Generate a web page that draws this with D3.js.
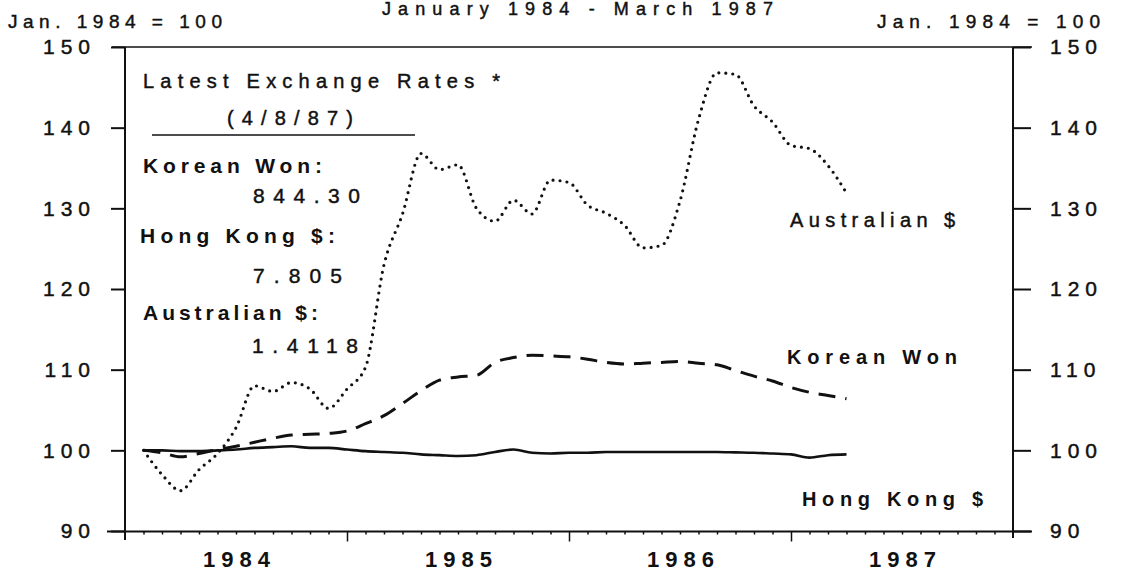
<!DOCTYPE html>
<html>
<head>
<meta charset="utf-8">
<script src="https://cdn.jsdelivr.net/npm/d3@7/dist/d3.min.js"></script>
<style>
  body { margin: 0; background: #fff; }
  svg { display: block; font-family: "Liberation Sans", Arial, Helvetica, sans-serif; }
  text { fill: #111; }
</style>
</head>
<body>
<div id="chart"></div>
<script>
// Data, monthly Jan 1984 - Mar 1987, index Jan 1984 = 100
const years = ["1984", "1985", "1986", "1987"];
const yTicks = [90, 100, 110, 120, 130, 140, 150];

const hongKong = [100, 100, 99.9, 99.9, 100, 100.1, 100.3, 100.4, 100.5, 100.3, 100.3, 100.1,
  99.9, 99.8, 99.7, 99.5, 99.4, 99.3, 99.4, 99.8, 100.1, 99.7, 99.6, 99.7,
  99.7, 99.8, 99.8, 99.8, 99.8, 99.8, 99.8, 99.8, 99.75, 99.7, 99.6, 99.5,
  99.1, 99.4, 99.5];

const korean = [100, 99.7, 99.2, 99.6, 100.1, 100.5, 101.0, 101.5, 101.9, 102.0, 102.1, 102.4,
  103.3, 104.3, 105.8, 107.4, 108.7, 109.1, 109.3, 110.9, 111.5, 111.8, 111.7, 111.6,
  111.3, 110.9, 110.7, 110.8, 110.9, 111.0, 110.8, 110.6, 109.9, 109.2, 108.6, 107.8,
  107.2, 106.8, 106.4];

const australian = [100, 97.0, 95.0, 97.6, 99.6, 102.8, 108.0, 107.3, 108.4, 107.6, 105.2, 107.6,
  110.3, 123.0, 129.3, 136.8, 134.8, 135.4, 130.0, 128.4, 131.0, 129.3, 133.5, 133.2,
  130.4, 129.4, 127.9, 125.1, 125.4, 130.9, 141.0, 146.8, 146.6, 142.7, 140.7, 137.8,
  137.4, 135.3, 131.9];

const rateNames = ["Korean Won:", "Hong Kong $:", "Australian $:"];
const rateValues = ["844.30", "7.805", "1.4118"];

// Layout
const WIDTH = 1146, HEIGHT = 577;
const PLOT = {LEFT: 125, RIGHT: 1013, TOP: 47, BOTTOM: 531};

const svg = d3.select("#chart").append("svg")
  .attr("width", WIDTH)
  .attr("height", HEIGHT);

// months since Jan 1 1984; each monthly value sits at the end of its month
const x = d3.scaleLinear().domain([0, 48]).range([PLOT.LEFT, PLOT.RIGHT]);
const y = d3.scaleLinear().domain([90, 150]).range([PLOT.BOTTOM, PLOT.TOP]);

// text with a fixed span, to mimic the wide tracking of the original
function label(str, x0, x1, yb, size, weight) {
  const t = svg.append("text")
    .attr("x", x0)
    .attr("y", yb)
    .attr("font-size", size)
    .attr("font-weight", weight || "normal")
    .attr("textLength", x1 - x0)
    .attr("lengthAdjust", "spacing")
    .text(str);
  if (!weight) t.attr("stroke", "#111").attr("stroke-width", 0.45);
  return t;
}

// Frame lines
svg.append("line")
  .attr("x1", PLOT.LEFT - 13).attr("x2", PLOT.RIGHT + 19)
  .attr("y1", PLOT.TOP).attr("y2", PLOT.TOP)
  .attr("stroke", "#111").attr("stroke-width", 1.6);
svg.append("line")
  .attr("x1", PLOT.LEFT - 18).attr("x2", PLOT.RIGHT + 19)
  .attr("y1", PLOT.BOTTOM + 0.5).attr("y2", PLOT.BOTTOM + 0.5)
  .attr("stroke", "#111").attr("stroke-width", 2);
svg.append("line")
  .attr("x1", PLOT.LEFT).attr("x2", PLOT.LEFT)
  .attr("y1", PLOT.TOP).attr("y2", PLOT.BOTTOM + 9)
  .attr("stroke", "#111").attr("stroke-width", 2);
svg.append("line")
  .attr("x1", PLOT.RIGHT).attr("x2", PLOT.RIGHT)
  .attr("y1", PLOT.TOP).attr("y2", PLOT.BOTTOM + 7)
  .attr("stroke", "#111").attr("stroke-width", 2);

// Y axes
const yLeft = svg.append("g")
  .attr("transform", "translate(" + PLOT.LEFT + ",0)")
  .call(d3.axisLeft(y).tickValues(yTicks).tickSize(14).tickSizeOuter(0).tickPadding(15));
const yRight = svg.append("g")
  .attr("transform", "translate(" + PLOT.RIGHT + ",0)")
  .call(d3.axisRight(y).tickValues(yTicks).tickSize(18).tickSizeOuter(0).tickPadding(19));

[yLeft, yRight].forEach(function (ax) {
  ax.select(".domain").remove();
  ax.selectAll(".tick line").attr("stroke", "#111").attr("stroke-width", 2);
  ax.selectAll(".tick text")
    .attr("font-family", null)
    .attr("font-size", 21)
    .attr("stroke", "#111")
    .attr("stroke-width", 0.45)
    .style("letter-spacing", "6px")
    .attr("fill", "#111");
});

// X axis: monthly minor ticks, yearly ticks, year labels centred in each year
const minor = d3.range(1, 48).filter(function (m) { return m % 12 !== 0; });
const xMinor = svg.append("g")
  .attr("transform", "translate(0," + (PLOT.BOTTOM + 0.5) + ")")
  .call(d3.axisBottom(x).tickValues(minor).tickSize(3).tickFormat(""));
const xMajor = svg.append("g")
  .attr("transform", "translate(0," + (PLOT.BOTTOM + 0.5) + ")")
  .call(d3.axisBottom(x).tickValues([12, 24, 36]).tickSize(10).tickFormat(""));
const xLabels = svg.append("g")
  .attr("transform", "translate(0," + (PLOT.BOTTOM + 0.5) + ")")
  .call(d3.axisBottom(x).tickValues([6, 18, 30, 42]).tickSize(0).tickPadding(16)
    .tickFormat(function (d, i) { return years[i]; }));

[xMinor, xMajor, xLabels].forEach(function (ax) {
  ax.select(".domain").remove();
  ax.selectAll(".tick line").attr("stroke", "#111").attr("stroke-width", 1.5);
});
xLabels.selectAll(".tick text")
  .attr("font-family", null)
  .attr("font-size", 22)
  .attr("font-weight", "bold")
  .attr("dx", 3)
  .attr("dy", "0.9em")
  .style("letter-spacing", "6px")
  .attr("fill", "#111");

// Series
const line = d3.line()
  .x(function (d, i) { return x(i + 1); })
  .y(function (d) { return y(d); })
  .curve(d3.curveMonotoneX);

svg.append("path")
  .attr("d", line(hongKong))
  .attr("fill", "none")
  .attr("stroke", "#111")
  .attr("stroke-width", 2.6)
  .attr("stroke-linejoin", "round");

svg.append("path")
  .attr("d", line(korean))
  .attr("fill", "none")
  .attr("stroke", "#111")
  .attr("stroke-width", 3)
  .attr("stroke-dasharray", "17,10");

svg.append("path")
  .attr("d", line(australian))
  .attr("fill", "none")
  .attr("stroke", "#111")
  .attr("stroke-width", 3.2)
  .attr("stroke-linecap", "round")
  .attr("stroke-dasharray", "0,7");

// Titles
label("January 1984 - March 1987", 382, 773, 15, 18);
label("Jan. 1984 = 100", 8, 222, 28, 19);
label("Jan. 1984 = 100", 877, 1100, 28, 19);

// Latest exchange rates box
label("Latest Exchange Rates *", 143, 500, 88, 20);
label("(4/8/87)", 227, 353, 125, 20);
svg.append("line")
  .attr("x1", 152).attr("x2", 415)
  .attr("y1", 135).attr("y2", 135)
  .attr("stroke", "#111").attr("stroke-width", 1.5);

const nameSpans = [[143, 322, 173], [140, 335, 243], [143, 318, 320]];
const valueSpans = [[253, 360, 203], [253, 342, 283], [252, 358, 353]];
rateNames.forEach(function (n, i) {
  const s = nameSpans[i];
  label(n, s[0], s[1], s[2], 21, "bold");
});
rateValues.forEach(function (v, i) {
  const s = valueSpans[i];
  label(v, s[0], s[1], s[2], 21);
});

// Series labels
label("Australian $", 790, 955, 227, 20);
label("Korean Won", 787, 957, 364, 20, "bold");
label("Hong Kong $", 802, 983, 506, 20, "bold");
</script>
</body>
</html>
